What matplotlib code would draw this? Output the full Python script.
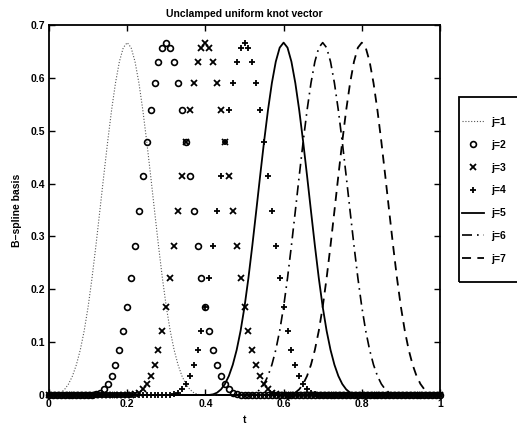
import numpy as np
import matplotlib
matplotlib.use("Agg")
import matplotlib.pyplot as plt
from matplotlib.patches import Rectangle

# ---- data ----
knots = [0.0, 0.1, 0.2, 0.3, 0.4, 0.5, 0.6, 0.7, 0.8, 0.9, 1.0]   # unclamped uniform knot vector
order = 4                                                          # cubic B-splines
t_start, t_stop, t_step = 0.0, 1.0, 0.01
labels = ["j=1", "j=2", "j=3", "j=4", "j=5", "j=6", "j=7"]
x_ticks = [0, 0.2, 0.4, 0.6, 0.8, 1.0]
x_tick_labels = ["0", "0.2", "0.4", "0.6", "0.8", "1"]
y_ticks = [0, 0.1, 0.2, 0.3, 0.4, 0.5, 0.6, 0.7]
y_tick_labels = ["0", "0.1", "0.2", "0.3", "0.4", "0.5", "0.6", "0.7"]

t = np.arange(int(round((t_stop - t_start) / t_step)) + 1) * t_step + t_start


def basis(i, k, x, kn):
    """Cox-de Boor recursion for B-spline basis N_{i,k}."""
    if k == 1:
        return np.where((x >= kn[i]) & (x < kn[i + 1]), 1.0, 0.0)
    out = np.zeros_like(x)
    d1 = kn[i + k - 1] - kn[i]
    d2 = kn[i + k] - kn[i + 1]
    if d1 > 0:
        out += (x - kn[i]) / d1 * basis(i, k - 1, x, kn)
    if d2 > 0:
        out += (kn[i + k] - x) / d2 * basis(i + 1, k - 1, x, kn)
    return out


n_basis = len(knots) - order
N = [basis(i, order, t, knots) for i in range(n_basis)]

# ---- styling ----
plt.rcParams["font.family"] = ["Liberation Sans", "DejaVu Sans"]
plt.rcParams["font.weight"] = "bold"
fs = 7.5

fig = plt.figure(figsize=(5.17, 4.30), dpi=100)
ax = fig.add_axes([49 / 517, 1 - 395 / 430, (440 - 49) / 517, (395 - 25) / 430])

styles = [
    dict(linestyle=(0, (1, 1.6)), color="#555555", linewidth=0.8, marker=None),
    dict(linestyle="none", marker="o", markersize=4.2, markerfacecolor="none",
         markeredgecolor="black", markeredgewidth=1.2, color="black"),
    dict(linestyle="none", marker="x", markersize=4.5, markeredgewidth=1.3, color="black"),
    dict(linestyle="none", marker="+", markersize=4.8, markeredgewidth=1.3, color="black"),
    dict(linestyle="-", color="black", linewidth=1.3),
    dict(linestyle=(0, (6, 3, 1, 3)), color="black", linewidth=1.2),
    dict(linestyle=(0, (5, 3.5)), color="black", linewidth=1.3),
]

for vals, lab, st in zip(N, labels, styles):
    ax.plot(t, vals, label=lab, clip_on=False, **st)

ax.set_xlim(0, 1)
ax.set_ylim(0, 0.7)
ax.set_xticks(x_ticks)
ax.set_xticklabels(x_tick_labels, fontsize=fs, fontweight="bold")
ax.set_yticks(y_ticks)
ax.set_yticklabels(y_tick_labels, fontsize=fs, fontweight="bold")
ax.tick_params(direction="in", top=True, right=True, length=4, width=1.0, pad=3)
for sp in ax.spines.values():
    sp.set_linewidth(1.3)

ax.set_title("Unclamped uniform knot vector", fontsize=fs, fontweight="bold", pad=6)
ax.set_xlabel("t", fontsize=fs, fontweight="bold", labelpad=4)
ax.set_ylabel("B\u2013spline basis", fontsize=fs, fontweight="bold", labelpad=6)

# legend box (frame drawn separately to match the original padding)
fig.patches.append(Rectangle((459 / 517, 1 - 282 / 430), 80 / 517, (282 - 97) / 430,
                             transform=fig.transFigure, fill=False,
                             edgecolor="black", linewidth=1.3, zorder=5))
leg = fig.legend(loc="upper left", bbox_to_anchor=(462 / 517, 1 - 117 / 430),
                 fontsize=fs, frameon=False,
                 handlelength=2.1, handletextpad=0.7, labelspacing=1.23,
                 borderpad=0, borderaxespad=0, markerscale=1.0, numpoints=1)

fig.savefig("out.png", dpi=100)
